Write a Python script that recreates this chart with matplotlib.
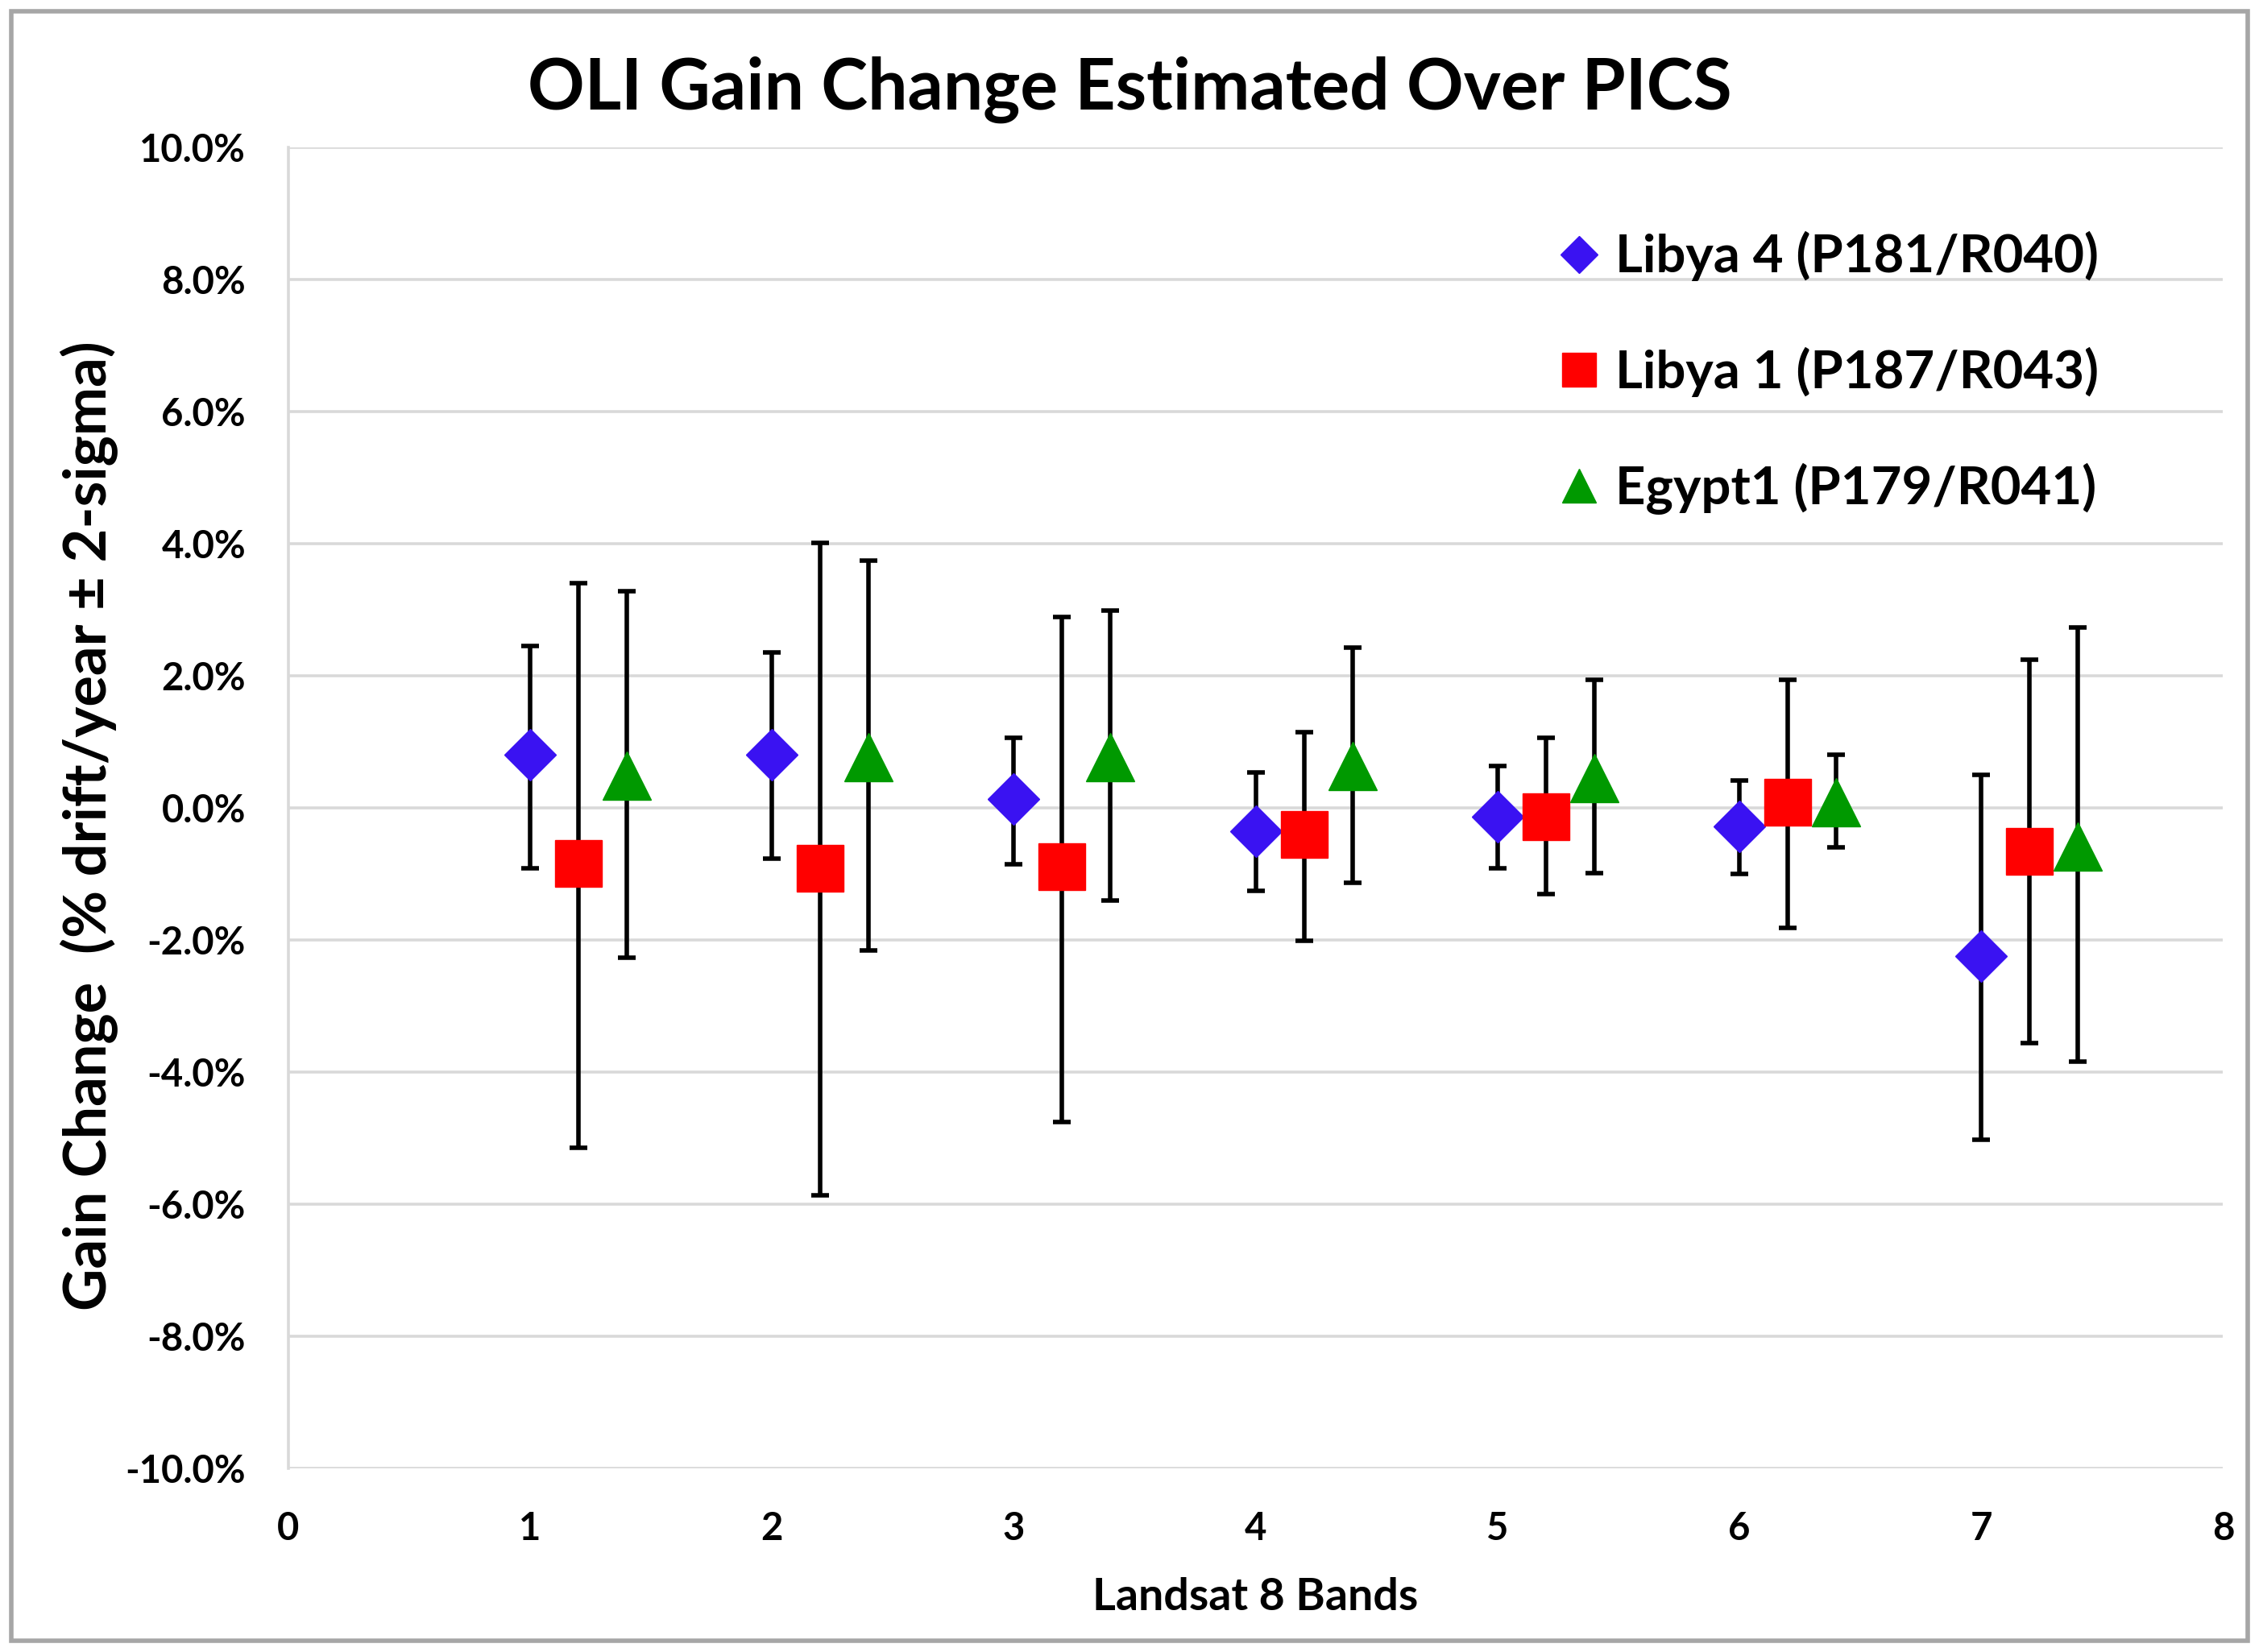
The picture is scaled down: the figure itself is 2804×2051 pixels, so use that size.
import matplotlib.pyplot as plt
from matplotlib.patches import Rectangle
from matplotlib.ticker import FuncFormatter
import numpy as np

plt.rcParams['font.family'] = ['Lato', 'DejaVu Sans']
plt.rcParams['font.weight'] = 'bold'

bands = np.array([1, 2, 3, 4, 5, 6, 7])

# gain change (% drift/year) with the 2-sigma bar ends
libya4 = np.array([0.80, 0.80, 0.13, -0.36, -0.14, -0.28, -2.24])
libya4_lo = np.array([-0.92, -0.77, -0.85, -1.26, -0.91, -1.00, -5.02])
libya4_hi = np.array([2.45, 2.35, 1.06, 0.53, 0.63, 0.41, 0.50])

libya1 = np.array([-0.84, -0.92, -0.89, -0.40, -0.13, 0.09, -0.66])
libya1_lo = np.array([-5.14, -5.86, -4.75, -2.01, -1.30, -1.82, -3.56])
libya1_hi = np.array([3.40, 4.01, 2.89, 1.15, 1.06, 1.94, 2.24])

egypt1 = np.array([0.49, 0.77, 0.77, 0.63, 0.45, 0.09, -0.58])
egypt1_lo = np.array([-2.27, -2.16, -1.40, -1.13, -0.99, -0.60, -3.84])
egypt1_hi = np.array([3.28, 3.74, 2.98, 2.43, 1.94, 0.80, 2.73])

labels = ["Libya 4 (P181/R040)", "Libya 1 (P187/R043)", "Egypt1 (P179/R041)"]

series = [
    (libya4, libya4_lo, libya4_hi, 0.0, 'D', '#3A12F2', 33),
    (libya1, libya1_lo, libya1_hi, 0.2, 's', '#FF0000', 42),
    (egypt1, egypt1_lo, egypt1_hi, 0.4, '^', '#009900', 43),
]

fig = plt.figure(figsize=(28.04, 20.51), dpi=100)
ax = fig.add_axes([0.1276, 0.111, 0.8565, 0.800])

handles = []
for (y, lo, hi, off, mk, col, ms), lab in zip(series, labels):
    c = ax.errorbar(bands + off, y, yerr=[y - lo, hi - y], fmt=mk, color=col,
                    ms=ms, mec=col, ecolor='black', elinewidth=4,
                    capsize=8, capthick=4, zorder=3, label=lab)
    handles.append(c[0])

ax.set_xlim(0, 8)
ax.set_ylim(-10, 10)
ax.set_xticks(range(0, 9))
ax.set_yticks(np.arange(-10, 10.1, 2))
ax.yaxis.set_major_formatter(FuncFormatter(lambda v, p: f"{v:.1f}%"))
ax.tick_params(length=0, labelsize=34, pad=38)
ax.grid(axis='y', color='#d9d9d9', lw=2.6)
ax.set_axisbelow(True)
for s in ['top', 'right', 'bottom']:
    ax.spines[s].set_visible(False)
ax.spines['left'].set_color('#d9d9d9')
ax.spines['left'].set_linewidth(2.6)

leg = ax.legend(handles=handles, labels=labels, loc='upper left',
                bbox_to_anchor=(0.629, 0.972), frameon=False, fontsize=47,
                markerscale=0.72, handletextpad=0.2, labelspacing=1.25,
                handlelength=1.0)

fig.text(0.5, 0.9457, "OLI Gain Change Estimated Over PICS", ha='center',
         va='center', fontsize=63, fontweight='bold')
fig.text(0.0397, 0.5, "Gain Change  (% drift/year ± 2-sigma)", rotation=90,
         ha='center', va='center', fontsize=52, fontweight='bold')
fig.text(0.5556, 0.0333, "Landsat 8 Bands", ha='center', va='center',
         fontsize=40, fontweight='bold')

fig.patches.append(Rectangle((0.005, 0.007), 0.99, 0.986, transform=fig.transFigure,
                             fill=False, ec='#a6a6a6', lw=4))

fig.savefig("out.png", dpi=100)
